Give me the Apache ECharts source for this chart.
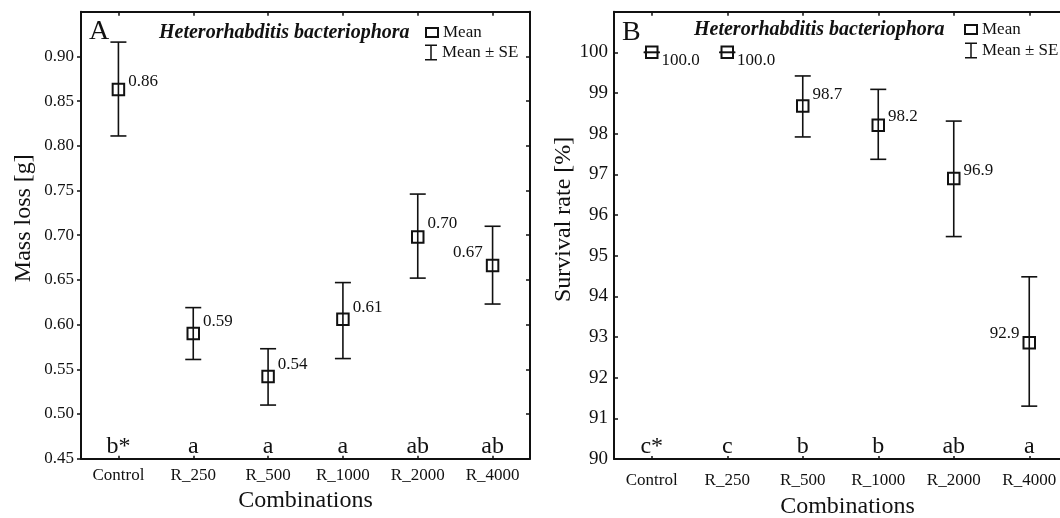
<!DOCTYPE html>
<html>
<head>
<meta charset="utf-8">
<title>Heterorhabditis bacteriophora – mass loss and survival</title>
<script src="https://cdn.jsdelivr.net/npm/echarts@6/dist/echarts.min.js"></script>
<style>
  html, body { margin: 0; padding: 0; background: #ffffff; }
  #chart { width: 1060px; height: 518px; }
</style>
</head>
<body>
<div id="chart"></div>
<script>
// ---- data ----
const categories = ['Control', 'R_250', 'R_500', 'R_1000', 'R_2000', 'R_4000'];

// Panel A: mass loss [g], mean with mean ± SE bounds
const massMean = [0.863, 0.590, 0.542, 0.606, 0.698, 0.666];
const massLow  = [0.811, 0.561, 0.510, 0.562, 0.652, 0.623];
const massHigh = [0.916, 0.619, 0.573, 0.647, 0.746, 0.710];
const massGroups = ['b*', 'a', 'a', 'a', 'ab', 'ab'];

// Panel B: survival rate [%], mean with mean ± SE bounds
const survMean = [100.0, 100.0, 98.68, 98.21, 96.90, 92.86];
const survLow  = [100.0, 100.0, 97.92, 97.37, 95.47, 91.30];
const survHigh = [100.0, 100.0, 99.42, 99.09, 98.31, 94.48];
const survGroups = ['c*', 'c', 'b', 'b', 'ab', 'a'];

// axis ranges
const massAxis = { min: 0.45, max: 0.95, interval: 0.05 };
const survAxis = { min: 90, max: 101, interval: 1 };

// ---- styling ----
const SERIF = "'Liberation Serif', 'DejaVu Serif', serif";
const INK = '#111111';

// which side each value label sits on, and its vertical shift
const massLabelSide = ['right', 'right', 'right', 'right', 'right', 'left'];
const massLabelDy   = [-8, -12, -12, -12, -13, -13];
const survLabelSide = ['right', 'right', 'right', 'right', 'right', 'left'];
const survLabelDy   = [8, 8, -12, -9, -8, -9];

function errorBars(params, api) {
  const x = api.value(0);
  const pLo = api.coord([x, api.value(1)]);
  const pHi = api.coord([x, api.value(2)]);
  const half = 8;
  const style = { stroke: INK, lineWidth: 1.6, fill: null };
  return {
    type: 'group',
    children: [
      { type: 'line', shape: { x1: pLo[0], y1: pLo[1], x2: pHi[0], y2: pHi[1] }, style },
      { type: 'line', shape: { x1: pLo[0] - half, y1: pLo[1], x2: pLo[0] + half, y2: pLo[1] }, style },
      { type: 'line', shape: { x1: pHi[0] - half, y1: pHi[1], x2: pHi[0] + half, y2: pHi[1] }, style }
    ]
  };
}

function frameAxes(gridIndex, range, opts) {
  const line = { show: true, lineStyle: { color: INK, width: 2 } };
  const catLabel = { show: true, fontFamily: SERIF, fontSize: 17, color: INK, margin: opts.catMargin };
  return {
    x: [
      {
        gridIndex, type: 'category', data: categories, position: 'bottom',
        boundaryGap: true, axisLine: line,
        axisTick: { show: true, inside: true, alignWithLabel: true, length: 3, lineStyle: { color: INK, width: 1.5 } },
        axisLabel: catLabel, splitLine: { show: false },
        name: 'Combinations', nameLocation: 'middle', nameGap: opts.xNameGap,
        nameTextStyle: { fontFamily: SERIF, fontSize: 24, color: INK, padding: [0, 0, 0, opts.xNameShift] }
      },
      {
        gridIndex, type: 'category', data: categories, position: 'top',
        boundaryGap: true, axisLine: line,
        axisTick: { show: true, inside: true, alignWithLabel: true, length: 4, lineStyle: { color: INK, width: 1.5 } },
        axisLabel: { show: false }, splitLine: { show: false }
      }
    ],
    y: [
      {
        gridIndex, type: 'value', position: 'left',
        min: range.min, max: range.max, interval: range.interval,
        axisLine: line,
        axisTick: { show: true, inside: opts.yTickInside, length: 4, lineStyle: { color: INK, width: 1.5 } },
        axisLabel: {
          show: true, fontFamily: SERIF, fontSize: opts.yFont, color: INK, margin: opts.yMargin,
          showMaxLabel: false, formatter: opts.yFormat
        },
        splitLine: { show: false },
        name: opts.yName, nameLocation: 'middle', nameGap: opts.yNameGap,
        nameTextStyle: { fontFamily: SERIF, fontSize: 24, color: INK, padding: [0, 0, 0, opts.yNameShift] }
      },
      {
        gridIndex, type: 'value', position: 'right',
        min: range.min, max: range.max, interval: range.interval,
        axisLine: line,
        axisTick: { show: true, inside: true, length: 4, lineStyle: { color: INK, width: 1.5 } },
        axisLabel: { show: false }, splitLine: { show: false }
      }
    ]
  };
}

function panelSeries(axisIdx, means, lows, highs, groups, range, sides, dys, digits) {
  return [
    {
      name: 'Mean ± SE', type: 'custom', xAxisIndex: axisIdx, yAxisIndex: axisIdx,
      renderItem: errorBars, encode: { x: 0, y: [1, 2] }, z: 2,
      data: means.map((m, i) => [i, lows[i], highs[i]])
    },
    {
      name: 'Mean', type: 'scatter', xAxisIndex: axisIdx, yAxisIndex: axisIdx,
      symbol: 'rect', symbolSize: 11.5, z: 3,
      itemStyle: { color: 'rgba(0,0,0,0)', borderColor: INK, borderWidth: 2, opacity: 1 },
      emphasis: { disabled: true },
      data: means.map((m, i) => ({
        value: [i, m],
        label: {
          show: true, position: sides[i], distance: 3, offset: [0, dys[i]],
          formatter: () => m.toFixed(digits),
          fontFamily: SERIF, fontSize: 17, color: INK
        }
      }))
    },
    {
      name: 'groups', type: 'scatter', xAxisIndex: axisIdx, yAxisIndex: axisIdx,
      symbolSize: 0, silent: true, z: 4,
      itemStyle: { opacity: 1 },
      emphasis: { disabled: true },
      data: groups.map((g, i) => ({ value: [i, range.min], name: g })),
      label: {
        show: true, position: 'top', distance: 0,
        formatter: p => p.name,
        fontFamily: SERIF, fontSize: 24, color: INK, opacity: 1
      }
    }
  ];
}

const axA = frameAxes(0, massAxis, {
  catMargin: 8, xNameGap: 30, xNameShift: 0, yTickInside: false, yFont: 17, yMargin: 7,
  yFormat: v => v.toFixed(2), yName: 'Mass loss [g]', yNameGap: 45, yNameShift: 34
});
const axB = frameAxes(1, survAxis, {
  catMargin: 13, xNameGap: 36, xNameShift: 14, yTickInside: true, yFont: 19, yMargin: 6,
  yFormat: v => String(Math.round(v)), yName: 'Survival rate [%]', yNameGap: 34, yNameShift: 32
});

const legendText = { fontFamily: SERIF, fontSize: 17, color: INK };
const meanIcon = { color: 'rgba(0,0,0,0)', borderColor: INK, borderWidth: 2 };
const seIcon = 'path://M0,0H12V1.5H6.75V14.5H12V16H0V14.5H5.25V1.5H0Z';
const letterStyle = { fontFamily: SERIF, fontSize: 28, fontWeight: 'normal', color: INK };
const speciesStyle = { fontFamily: SERIF, fontSize: 20, fontStyle: 'italic', fontWeight: 'bold', color: INK };

const option = {
  animation: false,
  backgroundColor: '#ffffff',
  grid: [
    { left: 81, right: 530, top: 11.7, bottom: 59.3, containLabel: false, outerBoundsMode: 'none' },
    { left: 614, right: -7, top: 11.7, bottom: 59, containLabel: false, outerBoundsMode: 'none' }
  ],
  title: [
    { text: 'A', left: 89, top: 18, padding: 0, textStyle: letterStyle },
    { text: 'B', left: 622, top: 19, padding: 0, textStyle: letterStyle },
    { text: 'Heterorhabditis bacteriophora', left: 159, top: 23, padding: 0, textStyle: speciesStyle },
    { text: 'Heterorhabditis bacteriophora', left: 694, top: 20, padding: 0, textStyle: speciesStyle }
  ],
  legend: [
    { left: 425, top: 24, padding: 0, itemWidth: 12, itemHeight: 9, selectedMode: false,
      data: [{ name: 'Mean', icon: 'rect', itemStyle: meanIcon }], textStyle: legendText },
    { left: 425, top: 44, padding: 0, itemWidth: 12, itemHeight: 16, selectedMode: false,
      data: [{ name: 'Mean ± SE', icon: seIcon, itemStyle: { color: INK, borderWidth: 0 } }], textStyle: legendText },
    { left: 964, top: 21, padding: 0, itemWidth: 12, itemHeight: 9, selectedMode: false,
      data: [{ name: 'Mean', icon: 'rect', itemStyle: meanIcon }], textStyle: legendText },
    { left: 965, top: 42, padding: 0, itemWidth: 12, itemHeight: 16, selectedMode: false,
      data: [{ name: 'Mean ± SE', icon: seIcon, itemStyle: { color: INK, borderWidth: 0 } }], textStyle: legendText }
  ],
  xAxis: [...axA.x, ...axB.x],
  yAxis: [...axA.y, ...axB.y],
  series: [
    ...panelSeries(0, massMean, massLow, massHigh, massGroups, massAxis, massLabelSide, massLabelDy, 2),
    ...panelSeries(2, survMean, survLow, survHigh, survGroups, survAxis, survLabelSide, survLabelDy, 1)
  ]
};

const chart = echarts.init(document.getElementById('chart'), null, { renderer: 'canvas' });
chart.setOption(option);
</script>
</body>
</html>
